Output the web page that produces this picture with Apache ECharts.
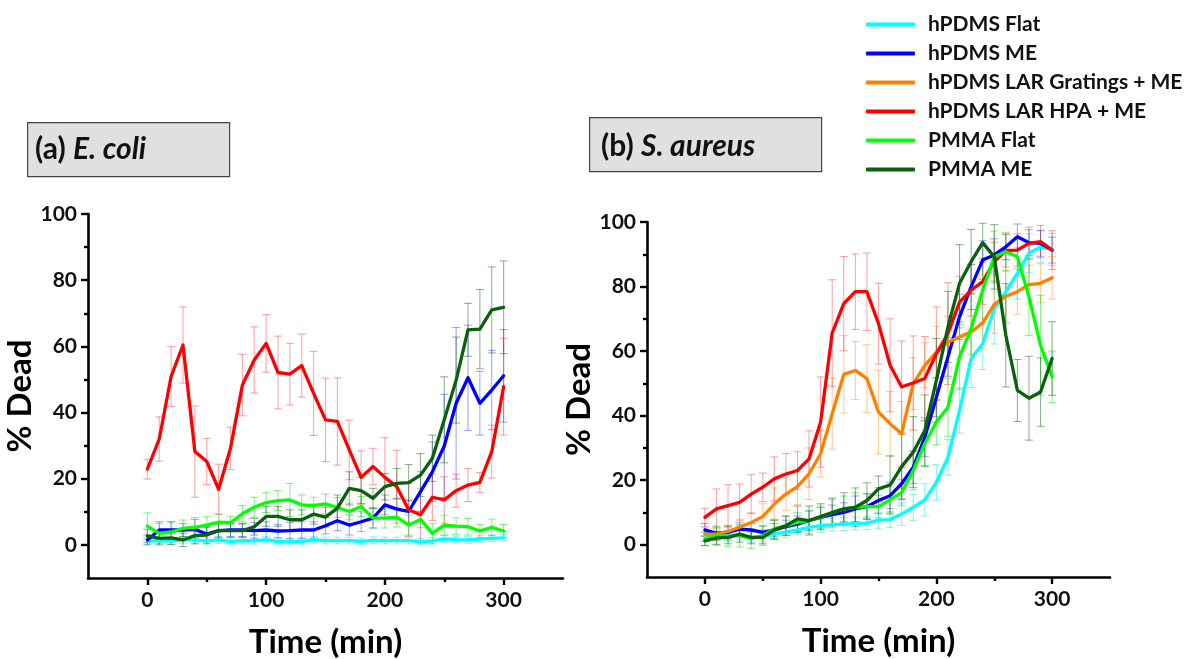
<!DOCTYPE html>
<html>
<head>
<meta charset="utf-8">
<script src="https://cdn.jsdelivr.net/npm/echarts@6/dist/echarts.min.js"></script>
<style>
html,body{margin:0;padding:0;background:#fff;}
#c{width:1186px;height:659px;}
</style>
</head>
<body>
<div id="c"></div>
<script>
// ---- data ----
const times = [0,10,20,30,40,50,60,70,80,90,100,110,120,130,140,150,160,170,180,190,200,210,220,230,240,250,260,270,280,290,300];
const seriesNames = ['hPDMS Flat','hPDMS ME','hPDMS LAR Gratings + ME','hPDMS LAR HPA + ME','PMMA Flat','PMMA ME'];
const xTickLabels = [0,100,200,300];
const yTickLabels = [0,20,40,60,80,100];

// (a) E. coli
const aCyan = [1.2,1.3,1.2,1.5,1.5,1.2,1.5,1.0,1.3,1.2,1.6,1.0,1.0,1.0,1.6,1.3,1.3,1.3,1.1,1.4,1.3,1.3,1.3,1.0,1.2,1.8,1.6,1.5,1.8,2.0,2.1];
const aCyanErr = [1,1,1,1,1,1,1,1,1,1,1,1,1,1,1,1,1,1,1,1,1,1,1,1,1,1,1,1,1,1,1];
const aBlue = [1.5,4.5,4.5,4.5,4.7,3.3,4.3,4.5,4.5,4.3,4.5,4.2,4.3,4.5,4.5,5.8,7.3,6.0,7.0,8.1,12.1,10.8,10.1,16.1,22.1,29.9,42.8,50.5,42.8,46.8,51.1];
const aBlueErr = [1.5,2.5,2.5,2,3,2,2.5,2,2,2.5,2.5,2,2.5,2.5,2.5,2.5,3,3,3,3,3,3,3.5,6,9,15.6,22.9,15.9,9.6,12,14];
const aRed = [22.9,32.0,50.9,60.4,28.2,25.2,16.8,29.2,48.3,55.9,60.9,52.1,51.6,54.2,45.8,37.8,37.3,28.7,20.4,23.7,20.4,17.6,10.6,9.1,14.4,13.6,16.4,18.1,18.9,28.2,47.8];
const aRedErr = [3.0,6.7,9.1,11.5,13.8,7.0,7.6,6.4,9.3,10,8.7,11,9.3,9.5,12.7,12.6,13.2,9,8,5.5,12,11,8,8,7,7,5,5,3,8,14.6];
const aGreen = [5.7,3.5,3.9,5.0,5.3,6.0,6.9,6.7,9.4,11.4,12.8,13.4,13.6,12.1,11.9,12.4,11.3,10.1,11.6,8.1,8.1,8.4,6.0,7.7,3.5,6.0,5.7,5.5,4.2,5.3,4.2];
const aGreenErr = [4,3,3,2.5,3,2.5,2.5,2,2.5,3,3,3,5,3,2.5,3,3,2.5,3,3,3,3,3,2.5,3,3,2.5,2.5,2,2.5,2];
const aDkGreen = [2.7,2.0,2.1,1.5,2.8,3.0,4.3,4.3,4.3,5.5,8.6,8.6,7.6,7.6,9.3,8.4,11.1,17.1,16.4,14.1,17.6,18.6,18.8,21.1,26.2,37.8,49.8,65.0,65.2,71.0,71.8];
const aDkGreenErr = [2,2,2,2,2.5,2.5,2,2,2,2.5,3,3,3,3,3,3,4,5,4,3,4,4.5,5.5,6.5,7,13,13,8,12,13,14];

// (b) S. aureus
const bCyan = [2.5,2.8,2.8,3.0,2.2,2.5,3.5,3.8,4.6,5.4,5.9,6.2,6.4,6.6,6.7,7.6,7.8,9.5,11.6,13.9,19.3,27.1,41.6,57.7,62.3,73.2,78.4,84.1,90.3,92.3,91.5];
const bCyanErr = [1.5,1.5,1.5,1.5,1.5,1.5,1.5,1.5,1.5,2,2,2,2,2,2,2.5,2.5,3.5,4,5,5.5,5.5,7,9,8,11,10,8,6,5,5];
const bBlue = [4.6,3.5,3.8,4.8,4.6,3.8,4.6,5.6,6.4,7.5,8.5,9.3,10.0,11.1,11.8,13.7,15.2,18.9,24.0,33.3,45.7,58.2,70.6,79.9,88.2,89.8,92.3,95.4,93.6,93.4,91.3];
const bBlueErr = [2,2,2,2,2,2,2,2,2.5,3,3,3,3,4,4,4,4,5,5,6,6,6,7,7,6,5,4,4,4,4,4];
const bOrange = [3.3,3.3,4.1,5.4,6.9,8.7,12.6,15.7,18.0,22.0,28.2,40.6,52.8,54.0,51.5,41.1,37.5,34.4,49.9,55.6,59.7,62.8,64.4,65.9,68.7,74.5,77.0,78.4,80.6,81.0,82.7];
const bOrangeErr = [2,2,2,2.5,3,4,5,5,5.5,8,7.2,11,12,9,10.5,13,10,10,8,7,8,8,7,7,8,9,8,7,6,6,6.6];
const bRed = [8.5,11.1,12.1,13.1,15.7,17.8,20.4,21.9,23.0,26.6,38.0,65.6,74.7,78.4,78.4,68.5,55.6,48.9,50.1,51.5,59.2,65.4,75.2,78.9,81.5,87.7,91.1,91.3,93.4,93.9,91.3];
const bRedErr = [2.8,6.2,6.5,5.7,6,4.4,6.8,6.4,5.8,8.7,14,16.5,14.6,11.7,12,12.5,14.4,14.2,14.6,13,14.5,15.8,8,8,7,6,5,5,5,5,6];
const bGreen = [1.8,2.8,2.5,2.8,1.9,2.8,4.9,5.9,6.9,7.5,8.5,10.0,11.1,11.6,11.8,11.8,13.9,16.2,23.0,31.3,38.0,42.6,58.2,67.0,78.9,89.2,90.8,89.2,76.8,61.8,52.0];
const bGreenErr = [2,3,3,3.5,3,3,3,3,3,3,3.5,4,4,4.5,4,3.5,4,4,6,7,7,9,10,11,10,8,6,6,12,15.5,8];
const bDkGreen = [1.2,2.1,2.3,3.3,2.3,2.3,4.6,5.9,8.0,7.5,8.7,10.0,11.1,11.6,13.7,17.3,18.5,24.2,28.7,35.4,50.9,67.5,81.0,87.7,93.6,89.2,64.9,47.8,45.4,47.3,57.7];
const bDkGreenErr = [1.5,2,2,2.5,2,2,3,3,4,4.5,4,4.5,5,6,5.5,4,9,10,11,11,13,11,12,10,6,10,16,9.6,13,10.6,11.4];

// ---- styling ----
const FONT = 'Lato';
const colors = {
  'hPDMS Flat': ['#00ffff','rgba(0,230,230,0.45)'],
  'hPDMS ME': ['#0000ff','rgba(0,0,255,0.35)'],
  'hPDMS LAR Gratings + ME': ['#ff8000','rgba(255,128,0,0.4)'],
  'hPDMS LAR HPA + ME': ['#ff0000','rgba(255,0,0,0.35)'],
  'PMMA Flat': ['#00ff00','rgba(0,220,0,0.45)'],
  'PMMA ME': ['#0b600b','rgba(11,96,11,0.45)']
};

const panelA = [
  ['hPDMS Flat', aCyan, aCyanErr],
  ['hPDMS ME', aBlue, aBlueErr],
  ['hPDMS LAR HPA + ME', aRed, aRedErr],
  ['PMMA Flat', aGreen, aGreenErr],
  ['PMMA ME', aDkGreen, aDkGreenErr]
];
const panelB = [
  ['hPDMS Flat', bCyan, bCyanErr],
  ['hPDMS ME', bBlue, bBlueErr],
  ['hPDMS LAR Gratings + ME', bOrange, bOrangeErr],
  ['hPDMS LAR HPA + ME', bRed, bRedErr],
  ['PMMA Flat', bGreen, bGreenErr],
  ['PMMA ME', bDkGreen, bDkGreenErr]
];

const grids = [
  {left:88, top:214, width:475, height:364},
  {left:647, top:222, width:463, height:355}
];

const axisLineStyle = {color:'#000', width:2.6};
const labelStyle = {color:'#111', fontFamily:FONT, fontWeight:'bold', fontSize:21};
const nameStyle = {fontFamily:FONT, fontWeight:'bold', fontSize:33, color:'#000'};

function makeX(g){
  return [
    {type:'value', gridIndex:g, min:-50, max:350, position:'bottom',
     axisLine:{show:true, onZero:false, lineStyle:axisLineStyle},
     axisTick:{show:true, customValues:xTickLabels, length:7, lineStyle:{width:2.4, color:'#000'}},
     axisLabel:Object.assign({customValues:xTickLabels, margin:12}, labelStyle),
     splitLine:{show:false},
     name:'Time (min)', nameLocation:'middle', nameGap:48, nameTextStyle:nameStyle},
    {type:'value', gridIndex:g, min:-50, max:350, position:'bottom',
     axisLine:{show:false, onZero:false},
     axisTick:{show:true, customValues:[50,150,250], length:4, lineStyle:{width:2.4, color:'#000'}},
     axisLabel:{show:false}, splitLine:{show:false}}
  ];
}
function makeY(g){
  return [
    {type:'value', gridIndex:g, min:-10, max:100, position:'left',
     axisLine:{show:true, onZero:false, lineStyle:axisLineStyle},
     axisTick:{show:true, customValues:yTickLabels, length:7, lineStyle:{width:2.4, color:'#000'}},
     axisLabel:Object.assign({customValues:yTickLabels, margin:11}, labelStyle),
     splitLine:{show:false},
     name:'% Dead', nameLocation:'middle', nameGap:42, nameTextStyle:nameStyle},
    {type:'value', gridIndex:g, min:-10, max:100, position:'left',
     axisLine:{show:false, onZero:false},
     axisTick:{show:true, customValues:[10,30,50,70,90], length:4, lineStyle:{width:2.4, color:'#000'}},
     axisLabel:{show:false}, splitLine:{show:false}}
  ];
}

function errSeries(name, vals, errs, axisIdx){
  const col = colors[name][1];
  return {
    type:'custom', name:name+' err', xAxisIndex:axisIdx, yAxisIndex:axisIdx, silent:true, z:1,
    data: times.map((t,i)=>[t, vals[i], errs[i]]),
    renderItem: function(params, api){
      const x = api.value(0), y = api.value(1), e = api.value(2);
      const top = api.coord([x, y+e]), bot = api.coord([x, y-e]);
      const w = 4;
      const st = {stroke:col, lineWidth:1.1};
      return {type:'group', children:[
        {type:'line', shape:{x1:top[0], y1:top[1], x2:bot[0], y2:bot[1]}, style:st},
        {type:'line', shape:{x1:top[0]-w, y1:top[1], x2:top[0]+w, y2:top[1]}, style:st},
        {type:'line', shape:{x1:bot[0]-w, y1:bot[1], x2:bot[0]+w, y2:bot[1]}, style:st}
      ]};
    }
  };
}
function lineSeries(name, vals, axisIdx, z){
  return {
    type:'line', name:name, xAxisIndex:axisIdx, yAxisIndex:axisIdx,
    data: times.map((t,i)=>[t, vals[i]]),
    showSymbol:false, symbol:'none', smooth:false, z:z,
    lineStyle:{color:colors[name][0], width:3.3, cap:'round', join:'round'},
    itemStyle:{color:colors[name][0]}
  };
}

const series = [];
panelA.forEach(p=>series.push(errSeries(p[0], p[1], p[2], 0)));
panelB.forEach(p=>series.push(errSeries(p[0], p[1], p[2], 2)));
panelA.forEach((p,i)=>series.push(lineSeries(p[0], p[1], 0, 3+i)));
panelB.forEach((p,i)=>series.push(lineSeries(p[0], p[1], 2, 3+i)));

const titleRich = {
  n:{fontFamily:FONT, fontWeight:'bold', fontSize:30, fill:'#111'},
  i:{fontFamily:FONT, fontWeight:'bold', fontStyle:'italic', fontSize:30, fill:'#111'}
};

const option = {
  animation:false,
  backgroundColor:'#fff',
  grid: grids.map(g=>Object.assign({containLabel:false, outerBoundsMode:'none'}, g)),
  xAxis: makeX(0).concat(makeX(1)),
  yAxis: makeY(0).concat(makeY(1)),
  legend: {
    data: seriesNames, orient:'vertical', left:861, top:9,
    icon:'roundRect', itemWidth:49, itemHeight:4, itemGap:8,
    textStyle:{fontFamily:FONT, fontWeight:'bold', fontSize:21, lineHeight:21, color:'#111', padding:[0,0,0,8]},
    selectedMode:false
  },
  graphic: [
    {type:'rect', left:27, top:122, shape:{width:202, height:54},
     style:{fill:'#e0e0e0', stroke:'#444', lineWidth:1.2}, z:10},
    {type:'text', x:35, y:149, z:11,
     style:{text:'{n|(a) }{i|E. coli}', verticalAlign:'middle', align:'left', rich:titleRich}},
    {type:'rect', left:589, top:117, shape:{width:232, height:54},
     style:{fill:'#e0e0e0', stroke:'#444', lineWidth:1.2}, z:10},
    {type:'text', x:601, y:146, z:11,
     style:{text:'{n|(b) }{i|S. aureus}', verticalAlign:'middle', align:'left', rich:titleRich}}
  ],
  series: series
};

const chart = echarts.init(document.getElementById('c'), null, {renderer:'canvas'});
chart.setOption(option);
</script>
</body>
</html>
